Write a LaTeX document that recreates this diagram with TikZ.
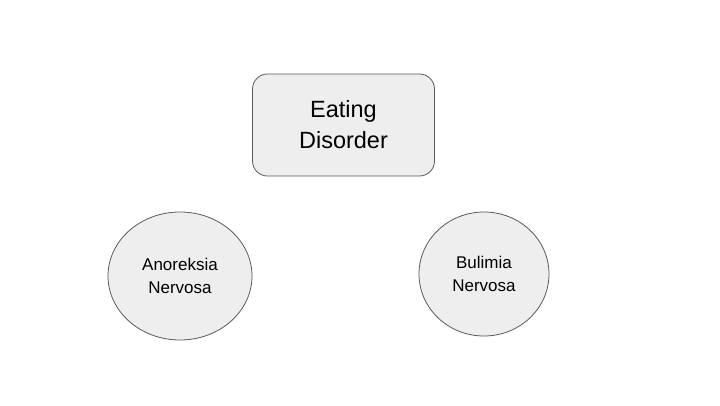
\documentclass[tikz,border=0pt]{standalone}
\usepackage{fontspec}
\setmainfont{Liberation Sans}
\usetikzlibrary{shapes,positioning}
\definecolor{boxfill}{HTML}{EEEEEE}
\definecolor{boxline}{HTML}{5A5A5A}
\tikzstyle{topic}=[draw=boxline,fill=boxfill,rounded corners=15pt,minimum width=182pt,minimum height=102pt,align=center,inner sep=0pt,font=\fontsize{23.5}{31}\selectfont]
\tikzstyle{kind}=[draw=boxline,fill=boxfill,ellipse,inner sep=0pt,align=center,font=\fontsize{17}{23}\selectfont]

\begin{document}
\begin{tikzpicture}[x=1pt,y=-1pt,line width=0.8pt]
    \useasboundingbox (0,0) rectangle (720,405);
    \node[topic] (eating) at (343.5,125) {Eating\\Disorder};
    \node[kind,minimum width=144pt,minimum height=128pt] (anoreksia) at (180,276) {Anoreksia\\Nervosa};
    \node[kind,minimum width=130pt,minimum height=124pt] (bulimia) at (484,274) {Bulimia\\Nervosa};
\end{tikzpicture}
\end{document}
